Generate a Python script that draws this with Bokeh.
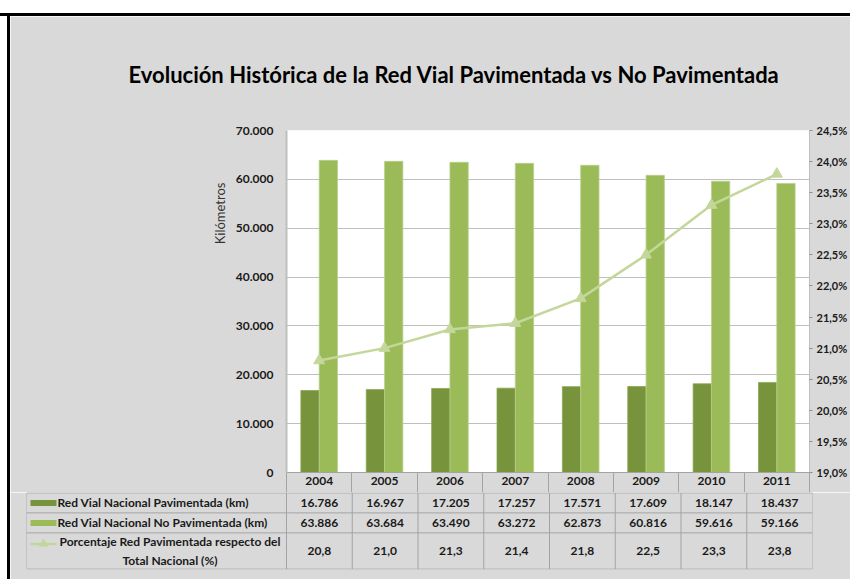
from bokeh.plotting import figure
from bokeh.models import Range1d, LinearAxis, FixedTicker, Title, Div, ColumnDataSource
from bokeh.layouts import column, row
from bokeh.core.properties import value
from bokeh.transform import dodge
from bokeh.embed import file_html
from bokeh.resources import INLINE

# ---------------- data ----------------
years = ["2004", "2005", "2006", "2007", "2008", "2009", "2010", "2011"]
paved_km = [16786, 16967, 17205, 17257, 17571, 17609, 18147, 18437]
unpaved_km = [63886, 63684, 63490, 63272, 62873, 60816, 59616, 59166]
paved_pct = [20.8, 21.0, 21.3, 21.4, 21.8, 22.5, 23.3, 23.8]

km_ticks = [0, 10000, 20000, 30000, 40000, 50000, 60000, 70000]
km_tick_labels = ["0", "10.000", "20.000", "30.000", "40.000", "50.000", "60.000", "70.000"]
pct_ticks = [19.0, 19.5, 20.0, 20.5, 21.0, 21.5, 22.0, 22.5, 23.0, 23.5, 24.0, 24.5]
pct_tick_labels = ["19,0%", "19,5%", "20,0%", "20,5%", "21,0%", "21,5%",
                   "22,0%", "22,5%", "23,0%", "23,5%", "24,0%", "24,5%"]

series_names = ["Red Vial Nacional Pavimentada (km)",
                "Red Vial Nacional No Pavimentada (km)",
                "Porcentaje Red Pavimentada respecto del\nTotal Nacional (%)"]
title_text = "Evolución Histórica  de la Red Vial Pavimentada vs No Pavimentada"
y_label = "Kilómetros"

# ---------------- style ----------------
FONT = "Lato"
BG = "#d9d9d9"
TXT = "#1a1a1a"
DARK = "#77933c"
LIGHT = "#9bbb59"
LINE_C = "#c4d79b"
GRID = "#bfbfbf"
TABLE_LINE = "#a3a3a3"

n = len(years)
centers = [i + 0.5 for i in range(n)]
boundaries = list(range(n + 1))

# ---------------- chart (with the year row of the table as its x axis) ----------------
pA = figure(width=840, height=476, x_range=Range1d(0, n), y_range=Range1d(0, 70000),
            output_backend="svg", toolbar_location=None,
            title=title_text,
            min_border_left=276, min_border_right=38, min_border_top=114, min_border_bottom=20,
            border_fill_color=BG, background_fill_color="white", outline_line_color=None)

pA.title.text_font = FONT
pA.title.text_font_size = "22px"
pA.title.text_font_style = "bold"
pA.title.text_color = "#000000"
pA.title.align = "left"
pA.title.offset = -158
pA.title.standoff = 85

# x axis = year row of the data table
xa = pA.xaxis[0]
xa.ticker = FixedTicker(ticks=centers, minor_ticks=boundaries)
xa.major_label_overrides = dict(zip(centers, years))
xa.axis_line_color = TABLE_LINE
xa.axis_line_width = 1
xa.major_tick_line_color = None
xa.major_tick_out = 0
xa.major_tick_in = 0
xa.minor_tick_line_color = TABLE_LINE
xa.minor_tick_line_width = 1
xa.minor_tick_out = 20
xa.minor_tick_in = 0
xa.major_label_standoff = -16
xa.major_label_text_font = FONT
xa.major_label_text_font_style = "bold"
xa.major_label_text_font_size = "12px"
xa.major_label_text_color = TXT

ax = pA.yaxis[0]
ax.ticker = FixedTicker(ticks=km_ticks)
ax.major_label_overrides = dict(zip(km_ticks, km_tick_labels))
ax.axis_line_color = GRID
ax.axis_line_width = 2
ax.major_tick_line_color = None
ax.minor_tick_line_color = None
ax.major_tick_out = 0
ax.major_tick_in = 0
ax.major_label_standoff = 13
ax.major_label_text_font = FONT
ax.major_label_text_font_style = "bold"
ax.major_label_text_font_size = "12px"
ax.major_label_text_color = TXT

pA.ygrid.grid_line_color = GRID
pA.xgrid.grid_line_color = None

pA.extra_y_ranges = {"pct": Range1d(pct_ticks[0], pct_ticks[-1])}
rax = LinearAxis(y_range_name="pct", ticker=FixedTicker(ticks=pct_ticks),
                 major_label_overrides=dict(zip(pct_ticks, pct_tick_labels)))
rax.axis_line_color = GRID
rax.axis_line_width = 1
rax.major_tick_line_color = "#8c8c8c"
rax.major_tick_in = 0
rax.major_tick_out = 3
rax.minor_tick_line_color = None
rax.major_label_standoff = 4
rax.major_label_text_font = FONT
rax.major_label_text_font_style = "bold"
rax.major_label_text_font_size = "11px"
rax.major_label_text_color = TXT
pA.add_layout(rax, "right")

ylab = Title(text=y_label, align="right", offset=52, text_font=FONT,
             text_font_size="13px", text_font_style="normal", text_color="#333333",
             standoff=10)
pA.add_layout(ylab, "left")

src = ColumnDataSource(dict(x=centers, paved=paved_km, unpaved=unpaved_km, pct=paved_pct))
bw = 0.28
pA.vbar(x=dodge("x", -bw / 2), top="paved", width=bw, source=src,
        fill_color=DARK, line_color="#8aa651", line_width=0.8)
pA.vbar(x=dodge("x", bw / 2), top="unpaved", width=bw, source=src,
        fill_color=LIGHT, line_color="#b9cf8a", line_width=0.8)
pA.line(x="x", y="pct", y_range_name="pct", source=src, line_color=LINE_C, line_width=2.5)
pA.scatter(x="x", y="pct", y_range_name="pct", source=src, marker="triangle", size=11,
           fill_color=LINE_C, line_color=LINE_C)

# ---------------- data table (value rows) ----------------
col_px = 526.0 / n          # width of one year column in pixels
hdr_px = 260.0              # width of the row-header column in pixels
hdr = hdr_px / col_px
row_edges = [0, 20, 40, 76.3]

def px(page_x):
    """page x pixel -> table x units (0 = left edge of first year column)"""
    return (page_x - 286.0) / col_px

pB = figure(width=840, height=87, x_range=Range1d(-hdr, n), y_range=Range1d(76.6, -0.4),
            output_backend="svg", toolbar_location=None,
            x_axis_location=None, y_axis_location=None,
            min_border_left=16, min_border_right=38, min_border_top=0, min_border_bottom=10,
            border_fill_color=BG, background_fill_color=BG, outline_line_color=None)
pB.xgrid.grid_line_color = None
pB.ygrid.grid_line_color = None

x0s, y0s, x1s, y1s = [], [], [], []
for ye in row_edges:
    x0s.append(-hdr); x1s.append(n); y0s.append(ye); y1s.append(ye)
for xb in [-hdr] + boundaries:
    x0s.append(xb); x1s.append(xb); y0s.append(row_edges[0]); y1s.append(row_edges[-1])
pB.segment(x0=x0s, y0=y0s, x1=x1s, y1=y1s, line_color=TABLE_LINE, line_width=1)

row_mid = [(row_edges[k] + row_edges[k + 1]) / 2 for k in range(len(row_edges) - 1)]

tsrc = ColumnDataSource(dict(
    x=centers,
    paved=[f"{v:,}".replace(",", ".") for v in paved_km],
    unpaved=[f"{v:,}".replace(",", ".") for v in unpaved_km],
    pct=[f"{v:.1f}".replace(".", ",") for v in paved_pct],
))
common = dict(text_font=value(FONT), text_font_style="bold", text_font_size="12px",
              text_color=TXT, text_align="center", text_baseline="middle")
pB.text(x="x", y=row_mid[0], text="paved", source=tsrc, **common)
pB.text(x="x", y=row_mid[1], text="unpaved", source=tsrc, **common)
pB.text(x="x", y=row_mid[2], text="pct", source=tsrc, **common)

hcommon = dict(text_font=value(FONT), text_font_style="bold", text_font_size="12px",
               text_color=TXT, text_baseline="middle")
pB.text(x=[px(57)] * 2, y=[row_mid[0], row_mid[1]], text=series_names[:2],
        text_align="left", **hcommon)
pB.text(x=[px(169.5)], y=[row_mid[2]], text=[series_names[2]], text_align="center",
        text_line_height=1.25, **hcommon)

key_w = 26.0 / col_px
pB.rect(x=[px(43)], y=[row_mid[0]], width=key_w, height=6, fill_color=DARK, line_color=None)
pB.rect(x=[px(43)], y=[row_mid[1]], width=key_w, height=6, fill_color=LIGHT, line_color=None)
pB.line(x=[px(30), px(56)], y=[51, 51], line_color=LINE_C, line_width=2.5)
pB.scatter(x=[px(43)], y=[51], marker="triangle", size=8, fill_color=LINE_C, line_color=LINE_C)

# ---------------- frame (black border of the chart area) ----------------
top_gap = Div(text="", width=850, height=13, margin=0)
top_bar = Div(text="", width=850, height=3, margin=0, styles={"background-color": "black"})

def left_edge(h):
    return [Div(text="", width=7, height=h, margin=0),
            Div(text="", width=3, height=h, margin=0, styles={"background-color": "black"})]

layout = column(top_gap, top_bar,
                row(*left_edge(476), pA, spacing=0),
                row(*left_edge(87), pB, spacing=0),
                spacing=0)

open("out.html", "w").write(file_html(layout, INLINE))
